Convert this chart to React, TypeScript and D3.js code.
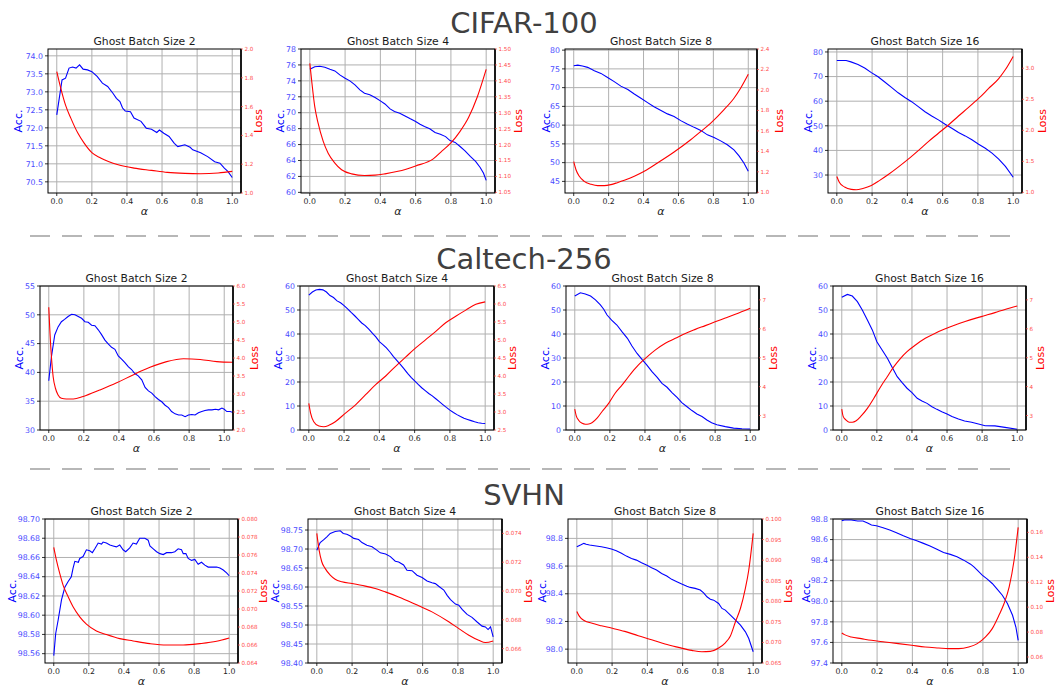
import React from "react";
import * as d3 from "d3";

// ---------- DATA ----------
const alphaTicks = [0, 0.2, 0.4, 0.6, 0.8, 1.0];
const datasets = ["CIFAR-100", "Caltech-256", "SVHN"];
const ghostSizes = [2, 4, 8, 16];

// CIFAR-100
const cifar2Acc = [[0,72.36],[0.03,73.33],[0.05,73.38],[0.07,73.66],[0.09,73.69],[0.11,73.66],[0.13,73.75],[0.15,73.63],[0.175,73.61],[0.2,73.56],[0.23,73.43],[0.26,73.24],[0.29,73.15],[0.32,72.96],[0.34,72.82],[0.36,72.73],[0.375,72.55],[0.39,72.47],[0.42,72.45],[0.44,72.27],[0.48,72.18],[0.51,71.99],[0.54,71.96],[0.57,71.87],[0.585,71.94],[0.61,71.85],[0.64,71.76],[0.67,71.57],[0.69,71.48],[0.73,71.53],[0.76,71.46],[0.775,71.39],[0.82,71.31],[0.86,71.2],[0.9,71.06],[0.93,71.02],[0.955,70.88],[0.975,70.79],[1.0,70.62]];
const cifar2Loss = [[0,1.843],[0.023,1.727],[0.05,1.61],[0.08,1.52],[0.12,1.416],[0.156,1.346],[0.2,1.28],[0.25,1.243],[0.35,1.196],[0.44,1.173],[0.54,1.157],[0.63,1.143],[0.73,1.136],[0.82,1.134],[0.92,1.139],[1.0,1.15]];
const cifar4Acc = [[0,75.45],[0.028,75.78],[0.057,75.83],[0.085,75.7],[0.114,75.45],[0.142,75.25],[0.17,74.75],[0.2,74.33],[0.227,74.0],[0.256,73.5],[0.284,72.87],[0.31,72.45],[0.34,72.25],[0.37,71.9],[0.4,71.49],[0.426,71.1],[0.455,70.48],[0.48,70.15],[0.51,69.94],[0.54,69.6],[0.57,69.23],[0.6,68.9],[0.625,68.56],[0.65,68.27],[0.68,67.98],[0.71,67.52],[0.74,67.31],[0.77,67.0],[0.795,66.5],[0.824,66.27],[0.852,65.76],[0.88,65.22],[0.91,64.51],[0.94,63.88],[0.966,63.13],[0.985,62.4],[1.0,61.5]];
const cifar4Loss = [[0,1.455],[0.01,1.403],[0.028,1.319],[0.047,1.267],[0.076,1.21],[0.104,1.173],[0.142,1.142],[0.18,1.121],[0.237,1.108],[0.31,1.103],[0.37,1.104],[0.426,1.108],[0.5,1.116],[0.6,1.133],[0.7,1.155],[0.75,1.18],[0.8,1.205],[0.85,1.24],[0.9,1.285],[0.95,1.35],[1.0,1.436]];
const cifar8Acc = [[0,75.83],[0.023,76.0],[0.05,75.75],[0.08,75.4],[0.118,74.5],[0.156,73.8],[0.194,72.7],[0.232,71.6],[0.27,70.4],[0.31,69.5],[0.347,68.3],[0.385,67.15],[0.423,66.0],[0.46,64.9],[0.5,63.9],[0.537,63.0],[0.575,62.3],[0.613,61.2],[0.65,60.3],[0.69,59.4],[0.728,58.6],[0.766,57.4],[0.804,56.7],[0.842,55.8],[0.88,54.75],[0.918,53.4],[0.947,51.8],[0.975,49.9],[1.0,47.7]];
const cifar8Loss = [[0,1.30],[0.013,1.22],[0.032,1.156],[0.06,1.107],[0.1,1.078],[0.137,1.065],[0.175,1.065],[0.213,1.075],[0.25,1.094],[0.29,1.117],[0.347,1.156],[0.404,1.205],[0.48,1.286],[0.575,1.393],[0.67,1.513],[0.728,1.594],[0.785,1.676],[0.86,1.805],[0.918,1.919],[0.956,2.017],[1.0,2.153]];
const cifar16Acc = [[0,76.5],[0.053,76.5],[0.08,75.96],[0.12,74.9],[0.158,73.5],[0.196,71.6],[0.234,69.9],[0.27,67.9],[0.31,65.6],[0.348,63.4],[0.386,61.5],[0.424,59.8],[0.462,57.8],[0.5,55.7],[0.538,54.0],[0.576,52.4],[0.614,50.6],[0.652,49.0],[0.69,47.25],[0.728,45.9],[0.766,44.3],[0.804,42.5],[0.842,40.9],[0.88,38.9],[0.918,36.5],[0.956,33.5],[1.0,29.1]];
const cifar16Loss = [[0,1.257],[0.015,1.16],[0.044,1.086],[0.082,1.048],[0.11,1.043],[0.148,1.064],[0.196,1.112],[0.243,1.193],[0.29,1.283],[0.348,1.406],[0.405,1.535],[0.462,1.674],[0.519,1.818],[0.576,1.952],[0.633,2.086],[0.69,2.23],[0.747,2.369],[0.804,2.513],[0.861,2.674],[0.918,2.834],[0.956,2.979],[1.0,3.19]];

// Caltech-256
const caltech2Acc = [[0,38.56],[0.015,42.7],[0.034,46.5],[0.053,47.9],[0.072,48.8],[0.09,49.2],[0.11,49.7],[0.13,50.1],[0.149,50.0],[0.168,49.7],[0.187,49.4],[0.206,48.8],[0.225,48.7],[0.244,48.2],[0.263,48.1],[0.282,47.4],[0.3,46.6],[0.32,45.6],[0.34,44.9],[0.358,44.35],[0.377,44.0],[0.396,42.85],[0.415,42.3],[0.434,41.7],[0.453,41.0],[0.472,40.5],[0.49,39.8],[0.51,39.4],[0.53,38.7],[0.549,37.4],[0.568,36.8],[0.587,36.4],[0.606,35.8],[0.625,35.3],[0.644,34.9],[0.663,34.3],[0.682,33.9],[0.7,33.2],[0.72,32.8],[0.74,32.6],[0.758,32.6],[0.777,32.3],[0.796,32.6],[0.815,32.7],[0.834,32.6],[0.853,33.0],[0.872,33.2],[0.89,33.4],[0.91,33.5],[0.93,33.5],[0.95,33.6],[0.968,33.5],[0.987,33.8],[1.0,33.6],[1.015,33.2],[1.034,33.2],[1.053,33.0]];
const caltech2Loss = [[0,5.41],[0.006,4.78],[0.015,4.04],[0.025,3.48],[0.038,3.16],[0.053,2.97],[0.072,2.88],[0.1,2.86],[0.14,2.86],[0.196,2.93],[0.29,3.11],[0.387,3.31],[0.48,3.53],[0.577,3.74],[0.672,3.9],[0.768,3.98],[0.863,3.96],[0.958,3.9],[1.053,3.88]];
const caltech4Acc = [[0,56.2],[0.02,57.5],[0.04,58.3],[0.06,58.6],[0.08,58.4],[0.1,57.5],[0.12,56.0],[0.14,55.2],[0.16,53.8],[0.18,53.0],[0.2,51.8],[0.22,50.5],[0.24,49.0],[0.26,47.6],[0.28,46.1],[0.3,44.6],[0.32,43.5],[0.34,42.0],[0.36,40.4],[0.38,38.8],[0.4,36.8],[0.42,35.6],[0.44,34.2],[0.46,32.5],[0.48,30.6],[0.5,28.9],[0.52,27.2],[0.54,25.5],[0.56,23.6],[0.58,21.9],[0.6,20.5],[0.62,19.0],[0.64,17.6],[0.66,16.4],[0.68,15.2],[0.7,14.2],[0.72,13.0],[0.74,11.8],[0.76,10.6],[0.78,9.4],[0.8,8.3],[0.82,7.3],[0.84,6.4],[0.86,5.6],[0.88,4.9],[0.9,4.4],[0.92,3.9],[0.94,3.4],[0.96,3.0],[0.98,2.8],[1.0,2.7]];
const caltech4Loss = [[0,3.24],[0.01,2.97],[0.028,2.73],[0.057,2.61],[0.085,2.59],[0.114,2.63],[0.15,2.73],[0.208,2.97],[0.265,3.2],[0.322,3.48],[0.379,3.76],[0.436,4.0],[0.492,4.27],[0.55,4.53],[0.606,4.78],[0.663,5.01],[0.72,5.24],[0.776,5.48],[0.833,5.66],[0.89,5.83],[0.947,5.99],[1.0,6.06]];
const caltech8Acc = [[0,55.8],[0.032,57.2],[0.06,56.7],[0.09,55.8],[0.118,54.2],[0.146,52.1],[0.165,50.3],[0.184,47.9],[0.21,45.8],[0.24,43.75],[0.27,40.9],[0.3,38.2],[0.326,35.0],[0.355,31.9],[0.383,29.4],[0.41,27.1],[0.44,24.3],[0.47,21.9],[0.497,19.4],[0.526,17.8],[0.554,15.6],[0.583,13.6],[0.61,11.4],[0.64,9.7],[0.668,8.1],[0.696,6.7],[0.725,5.6],[0.753,4.2],[0.78,3.05],[0.81,2.2],[0.858,1.4],[0.905,0.8],[0.953,0.55],[1.0,0.4]];
const caltech8Loss = [[0,3.22],[0.008,3.0],[0.023,2.83],[0.042,2.73],[0.06,2.70],[0.08,2.71],[0.1,2.76],[0.127,2.91],[0.156,3.14],[0.194,3.43],[0.23,3.77],[0.27,4.06],[0.307,4.35],[0.345,4.63],[0.383,4.87],[0.42,5.07],[0.46,5.27],[0.516,5.5],[0.573,5.67],[0.63,5.84],[0.687,5.98],[0.744,6.11],[0.8,6.24],[0.858,6.37],[0.915,6.5],[1.0,6.71]];
const caltech16Acc = [[0,55.3],[0.032,56.5],[0.06,55.8],[0.089,53.5],[0.117,50.0],[0.146,45.8],[0.174,41.7],[0.2,36.8],[0.23,33.3],[0.26,29.9],[0.287,26.1],[0.316,22.2],[0.344,19.7],[0.372,17.4],[0.4,15.6],[0.43,13.2],[0.457,12.1],[0.486,11.1],[0.514,9.7],[0.542,8.6],[0.57,7.6],[0.6,6.7],[0.628,5.6],[0.665,4.6],[0.7,3.75],[0.74,3.2],[0.779,2.5],[0.817,1.8],[0.873,1.7],[0.93,1.1],[1.0,0.3]];
const caltech16Loss = [[0,3.22],[0.008,2.97],[0.023,2.85],[0.042,2.77],[0.06,2.77],[0.08,2.81],[0.108,2.97],[0.146,3.25],[0.183,3.6],[0.22,3.98],[0.26,4.35],[0.297,4.69],[0.335,4.98],[0.372,5.21],[0.42,5.44],[0.476,5.67],[0.533,5.85],[0.59,6.0],[0.646,6.13],[0.703,6.25],[0.76,6.36],[0.817,6.46],[0.873,6.56],[0.93,6.67],[1.0,6.79]];

// SVHN
const svhn2Acc = [[0,98.558],[0.011,98.581],[0.025,98.595],[0.044,98.616],[0.063,98.629],[0.082,98.635],[0.1,98.640],[0.11,98.649],[0.12,98.656],[0.14,98.655],[0.148,98.659],[0.167,98.661],[0.186,98.668],[0.205,98.667],[0.22,98.665],[0.234,98.669],[0.253,98.675],[0.272,98.674],[0.281,98.676],[0.3,98.675],[0.32,98.673],[0.338,98.672],[0.357,98.671],[0.376,98.673],[0.395,98.668],[0.41,98.666],[0.433,98.670],[0.452,98.675],[0.471,98.674],[0.49,98.680],[0.519,98.680],[0.538,98.678],[0.548,98.672],[0.567,98.669],[0.586,98.666],[0.605,98.664],[0.624,98.663],[0.643,98.665],[0.671,98.665],[0.69,98.666],[0.709,98.669],[0.728,98.668],[0.738,98.664],[0.753,98.664],[0.766,98.659],[0.785,98.657],[0.804,98.658],[0.823,98.653],[0.842,98.655],[0.861,98.652],[0.88,98.650],[0.909,98.650],[0.928,98.650],[0.947,98.649],[0.966,98.647],[0.985,98.644],[1.0,98.641]];
const svhn2Loss = [[0,0.07684],[0.015,0.07543],[0.034,0.07395],[0.053,0.07265],[0.082,0.07135],[0.11,0.07024],[0.148,0.06912],[0.186,0.06831],[0.243,0.06756],[0.3,0.06716],[0.376,0.06671],[0.452,0.06645],[0.548,0.06615],[0.643,0.06600],[0.738,0.06600],[0.833,0.06615],[0.928,0.06641],[1.0,0.06678]];
const svhn4Acc = [[0,98.697],[0.019,98.717],[0.038,98.724],[0.057,98.732],[0.076,98.741],[0.104,98.746],[0.133,98.748],[0.15,98.741],[0.17,98.739],[0.19,98.734],[0.21,98.728],[0.237,98.725],[0.256,98.717],[0.284,98.710],[0.313,98.706],[0.34,98.697],[0.36,98.690],[0.39,98.687],[0.417,98.680],[0.445,98.668],[0.464,98.666],[0.492,98.658],[0.511,98.644],[0.54,98.643],[0.568,98.631],[0.597,98.625],[0.625,98.616],[0.653,98.611],[0.672,98.609],[0.691,98.602],[0.72,98.592],[0.739,98.578],[0.758,98.567],[0.786,98.555],[0.805,98.552],[0.824,98.541],[0.852,98.528],[0.88,98.520],[0.909,98.508],[0.937,98.497],[0.956,98.495],[0.971,98.488],[0.985,98.495],[1.0,98.469]];
const svhn4Loss = [[0,0.0740],[0.013,0.07284],[0.028,0.07203],[0.047,0.07157],[0.076,0.07110],[0.104,0.07082],[0.142,0.07064],[0.2,0.07052],[0.275,0.07034],[0.331,0.07017],[0.388,0.06994],[0.464,0.06959],[0.559,0.06908],[0.653,0.06855],[0.748,0.06786],[0.805,0.06739],[0.862,0.06693],[0.918,0.06658],[0.956,0.06642],[1.0,0.06653]];
const svhn8Acc = [[0,98.740],[0.021,98.752],[0.04,98.764],[0.053,98.757],[0.072,98.752],[0.1,98.747],[0.139,98.740],[0.167,98.733],[0.196,98.723],[0.224,98.711],[0.253,98.692],[0.281,98.672],[0.31,98.655],[0.338,98.643],[0.367,98.624],[0.395,98.607],[0.424,98.588],[0.452,98.571],[0.481,98.547],[0.51,98.528],[0.538,98.504],[0.567,98.487],[0.595,98.470],[0.624,98.455],[0.643,98.446],[0.671,98.439],[0.7,98.427],[0.719,98.407],[0.738,98.378],[0.757,98.361],[0.776,98.354],[0.804,98.330],[0.823,98.294],[0.842,98.282],[0.871,98.246],[0.9,98.210],[0.928,98.173],[0.956,98.125],[0.975,98.077],[1.0,97.981]];
const svhn8Loss = [[0,0.07753],[0.015,0.07632],[0.044,0.07527],[0.082,0.07470],[0.139,0.07405],[0.196,0.07349],[0.272,0.07268],[0.348,0.07163],[0.424,0.07066],[0.5,0.06961],[0.576,0.06880],[0.652,0.06807],[0.709,0.06775],[0.757,0.06783],[0.804,0.06864],[0.842,0.0699],[0.87,0.0715],[0.9,0.0751],[0.928,0.0783],[0.956,0.0832],[0.975,0.0876],[1.0,0.0965]];
const svhn16Acc = [[0,98.784],[0.015,98.79],[0.053,98.79],[0.09,98.78],[0.12,98.78],[0.149,98.758],[0.168,98.741],[0.196,98.735],[0.234,98.715],[0.272,98.693],[0.31,98.667],[0.349,98.637],[0.387,98.611],[0.425,98.589],[0.463,98.563],[0.5,98.537],[0.539,98.507],[0.577,98.475],[0.615,98.456],[0.653,98.433],[0.691,98.40],[0.73,98.361],[0.749,98.335],[0.768,98.303],[0.796,98.254],[0.825,98.215],[0.853,98.173],[0.882,98.115],[0.91,98.059],[0.939,97.978],[0.968,97.864],[0.987,97.75],[1.0,97.62]];
const svhn16Loss = [[0,0.0793],[0.015,0.07796],[0.053,0.07609],[0.11,0.07475],[0.168,0.07340],[0.244,0.07206],[0.32,0.07072],[0.396,0.06938],[0.472,0.06804],[0.549,0.06724],[0.606,0.06670],[0.663,0.06670],[0.72,0.06804],[0.768,0.07072],[0.815,0.07609],[0.853,0.08279],[0.891,0.09351],[0.92,0.1029],[0.949,0.1163],[0.977,0.1378],[1.0,0.164]];

// axis ranges and tick labels
const accDomains = [
  [70.19, 74.19], [59.92, 78.0], [41.9, 80.3], [22.7, 81.2],
  [30, 55], [0, 60], [0, 60], [0, 60],
  [98.5503, 98.70], [98.40, 98.779], [97.90, 98.94], [97.4, 98.8],
];
const lossDomains = [
  [1.0, 2.0], [1.048, 1.5], [0.993, 2.4], [0.99, 3.31],
  [2.0, 6.0], [2.5, 6.5], [2.5, 7.48], [2.5, 7.48],
  [0.064, 0.080], [0.065, 0.075], [0.065, 0.100], [0.0552, 0.1707],
];
const accTicks = [
  [70.5, 71, 71.5, 72, 72.5, 73, 73.5, 74],
  [60, 62, 64, 66, 68, 70, 72, 74, 76, 78],
  [45, 50, 55, 60, 65, 70, 75, 80],
  [30, 40, 50, 60, 70, 80],
  [30, 35, 40, 45, 50, 55],
  [0, 10, 20, 30, 40, 50, 60],
  [0, 10, 20, 30, 40, 50, 60],
  [0, 10, 20, 30, 40, 50, 60],
  [98.56, 98.58, 98.60, 98.62, 98.64, 98.66, 98.68, 98.70],
  [98.40, 98.45, 98.50, 98.55, 98.60, 98.65, 98.70, 98.75],
  [98.0, 98.2, 98.4, 98.6, 98.8],
  [97.4, 97.6, 97.8, 98.0, 98.2, 98.4, 98.6, 98.8],
];
const lossTicks = [
  [1.0, 1.2, 1.4, 1.6, 1.8, 2.0],
  [1.05, 1.10, 1.15, 1.20, 1.25, 1.30, 1.35, 1.40, 1.45, 1.50],
  [1.0, 1.2, 1.4, 1.6, 1.8, 2.0, 2.2, 2.4],
  [1.0, 1.5, 2.0, 2.5, 3.0],
  [2.0, 2.5, 3.0, 3.5, 4.0, 4.5, 5.0, 5.5, 6.0],
  [2.5, 3.0, 3.5, 4.0, 4.5, 5.0, 5.5, 6.0, 6.5],
  [3, 4, 5, 6, 7],
  [3, 4, 5, 6, 7],
  [0.064, 0.066, 0.068, 0.070, 0.072, 0.074, 0.076, 0.078, 0.080],
  [0.066, 0.068, 0.070, 0.072, 0.074],
  [0.065, 0.070, 0.075, 0.080, 0.085, 0.090, 0.095, 0.100],
  [0.06, 0.08, 0.10, 0.12, 0.14, 0.16],
];
const accFormats = [".1f", "d", "d", "d", "d", "d", "d", "d", ".2f", ".2f", ".1f", ".1f"];
const lossFormats = [".1f", ".2f", ".1f", ".1f", ".1f", ".1f", "d", "d", ".3f", ".3f", ".3f", ".2f"];
const accSeries = [cifar2Acc, cifar4Acc, cifar8Acc, cifar16Acc, caltech2Acc, caltech4Acc, caltech8Acc, caltech16Acc, svhn2Acc, svhn4Acc, svhn8Acc, svhn16Acc];
const lossSeries = [cifar2Loss, cifar4Loss, cifar8Loss, cifar16Loss, caltech2Loss, caltech4Loss, caltech8Loss, caltech16Loss, svhn2Loss, svhn4Loss, svhn8Loss, svhn16Loss];

// ---------- LAYOUT ----------
// [left, right, top, bottom, accLabelX, lossLabelX]
const frames = [
  [48, 241, 49, 193, 18, 258], [301, 495, 49, 193, 280, 518], [565, 757, 49, 193, 546, 779], [828, 1022, 49, 193, 808, 1042],
  [40, 233, 286, 430, 19, 254], [300, 494, 286, 430, 278, 512], [566, 759, 286, 430, 545, 773], [833, 1026, 286, 430, 812, 1040],
  [45, 238, 519, 663, 12, 263], [308, 502, 519, 663, 275, 528], [568, 762, 519, 663, 542, 788], [833, 1027, 519, 663, 806, 1050],
];
const titleY = [33, 269, 505];
const separatorY = [236, 469];

const FONT = "DejaVu Sans, Verdana, sans-serif";
const ACC_TICK = "#4a4aff";
const LOSS_TICK = "#ff4a4a";

function Panel({ i }: { i: number }) {
  const [left, right, top, bottom, accLX, lossLX] = frames[i];
  const x = d3.scaleLinear().domain([-0.05, 1.05]).range([left, right]);
  const yA = d3.scaleLinear().domain(accDomains[i]).range([bottom, top]);
  const yL = d3.scaleLinear().domain(lossDomains[i]).range([bottom, top]);
  const accLine = d3.line<number[]>().x((d) => x(d[0])).y((d) => yA(d[1]));
  const lossLine = d3
    .line<number[]>()
    .x((d) => x(d[0]))
    .y((d) => yL(d[1]))
    .curve(d3.curveMonotoneX);
  const fa = d3.format(accFormats[i]);
  const fl = d3.format(lossFormats[i]);
  const fx = d3.format(".1f");
  const clipId = `clip${i}`;
  const midY = (top + bottom) / 2;
  return (
    <g>
      <defs>
        <clipPath id={clipId}>
          <rect x={left} y={top} width={right - left} height={bottom - top} />
        </clipPath>
      </defs>
      {alphaTicks.map((t) => (
        <line key={"gx" + t} x1={x(t)} x2={x(t)} y1={top} y2={bottom} stroke="#b0b0b0" strokeWidth={1} />
      ))}
      {accTicks[i].map((t) => (
        <line key={"gy" + t} x1={left} x2={right} y1={yA(t)} y2={yA(t)} stroke="#b0b0b0" strokeWidth={1} />
      ))}
      <g clipPath={`url(#${clipId})`}>
        <path d={accLine(accSeries[i] as any) || ""} fill="none" stroke="#0000ff" strokeWidth={1.1} />
        <path d={lossLine(lossSeries[i] as any) || ""} fill="none" stroke="#ff0000" strokeWidth={1.1} />
      </g>
      <rect x={left} y={top} width={right - left} height={bottom - top} fill="none" stroke="#000" strokeWidth={1} />
      <line x1={right} x2={right} y1={top} y2={bottom} stroke="#000" strokeWidth={1.6} />
      {alphaTicks.map((t) => (
        <g key={"xt" + t}>
          <line x1={x(t)} x2={x(t)} y1={bottom} y2={bottom + 3} stroke="#000" strokeWidth={0.8} />
          <text x={x(t)} y={bottom + 10.5} fontSize={7.8} textAnchor="middle" fill="#262626" fontFamily={FONT}>
            {fx(t)}
          </text>
        </g>
      ))}
      {accTicks[i].map((t) => (
        <g key={"at" + t}>
          <line x1={left - 3} x2={left} y1={yA(t)} y2={yA(t)} stroke="#000" strokeWidth={0.8} />
          <text x={left - 5} y={yA(t)} dy="0.35em" fontSize={7.8} textAnchor="end" fill={ACC_TICK} fontFamily={FONT}>
            {fa(t)}
          </text>
        </g>
      ))}
      {lossTicks[i].map((t) => (
        <g key={"lt" + t}>
          <line x1={right} x2={right + 2} y1={yL(t)} y2={yL(t)} stroke={LOSS_TICK} strokeWidth={0.7} />
          <text x={right + 3.5} y={yL(t)} dy="0.35em" fontSize={5.6} textAnchor="start" fill={LOSS_TICK} fontFamily={FONT}>
            {fl(t)}
          </text>
        </g>
      ))}
      <text x={(left + right) / 2} y={top - 4} fontSize={10.8} textAnchor="middle" fill="#1a1a1a" fontFamily={FONT}>
        {`Ghost Batch Size ${ghostSizes[i % 4]}`}
      </text>
      <text x={(left + right) / 2} y={bottom + 22} fontSize={11} fontStyle="italic" textAnchor="middle" fill="#1a1a1a" fontFamily={FONT}>
        α
      </text>
      <text
        transform={`translate(${accLX},${midY}) rotate(-90)`}
        fontSize={11}
        textAnchor="middle"
        dominantBaseline="central"
        fill="#0000ff"
        fontFamily={FONT}
      >
        Acc.
      </text>
      <text
        transform={`translate(${lossLX},${midY}) rotate(-90)`}
        fontSize={11}
        textAnchor="middle"
        dominantBaseline="central"
        fill="#ff0000"
        fontFamily={FONT}
      >
        Loss
      </text>
    </g>
  );
}

export default function App() {
  return (
    <div style={{ position: "absolute", left: 0, top: 0, background: "#fff" }}>
      <svg width={1056} height={689} viewBox="0 0 1056 689" style={{ display: "block" }}>
        <rect width={1056} height={689} fill="#fff" />
        {datasets.map((name, r) => (
          <text key={name} x={524} y={titleY[r]} fontSize={29} textAnchor="middle" fill="#404040" fontFamily={FONT}>
            {name}
          </text>
        ))}
        {separatorY.map((y) => (
          <line key={"sep" + y} x1={30} x2={1012} y1={y} y2={y} stroke="#a0a0a0" strokeWidth={1.6} strokeDasharray="20,12" />
        ))}
        {frames.map((_, i) => (
          <Panel key={i} i={i} />
        ))}
      </svg>
    </div>
  );
}
